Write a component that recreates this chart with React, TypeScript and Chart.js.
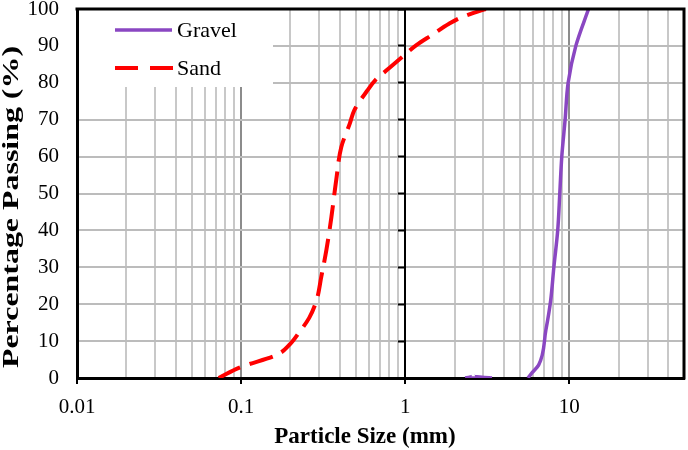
import React, { useEffect, useRef } from 'react';
import { Chart, registerables } from 'chart.js';

Chart.register(...registerables);

// ---- Data ----
const seriesNames = ['Gravel', 'Sand'];

const sandSize = [0.073, 0.1, 0.164, 0.197, 0.227, 0.26, 0.288, 0.308, 0.331, 0.355, 0.38, 0.408, 0.46, 0.49, 0.59, 0.66, 0.8, 0.96, 1.17, 1.46, 1.85, 2.22, 2.94, 3.1];
const sandPassing = [0, 3, 6.2, 9, 12.5, 16.3, 21, 27.4, 34.7, 43.6, 53.7, 62.6, 69, 72.6, 78, 80.8, 84, 87, 90.2, 93, 96, 97.8, 99.7, 100];

// null marks the part of the curve hidden below the axis
const gravelSize = [2.32, 2.6, 3.38, 4.5, 5.6, 5.92, 6.5, 7.2, 7.7, 8.05, 8.5, 8.75, 9.0, 9.43, 9.84, 10.96, 13.1];
const gravelPassing = [0, 0.5, 0, null, 0, 1.4, 3.5, 13, 21, 30, 40, 50, 60, 70, 80, 90, 100];

const xMajorTicks = [0.01, 0.1, 1, 10];
const xMinorMultipliers = [2, 3, 4, 5, 6, 7, 8, 9];
const xMin = 0.01;
const xMax = 50;
const yMin = 0;
const yMax = 100;
const yStep = 10;

const xTitle = 'Particle Size (mm)';
const yTitle = 'Percentage Passing (%)';

const FONT = "'Liberation Serif', 'Times New Roman', serif";
const GRAVEL_COLOR = '#8a47c2';
const SAND_COLOR = '#ff0000';

const xTickValues: number[] = (() => {
  const out: number[] = [];
  xMajorTicks.forEach((m) => {
    if (m <= xMax) out.push(m);
    xMinorMultipliers.forEach((k) => {
      const v = k * m;
      if (v <= xMax + 1e-9) out.push(v);
    });
  });
  return out.sort((a, b) => a - b);
})();

const isMajor = (v: number) => xMajorTicks.some((m) => Math.abs(m - v) < 1e-9);
const isOne = (v: number) => Math.abs(v - 1) < 1e-9;

const decorPlugin = {
  id: 'decor',
  beforeDatasetsDraw(chart: any) {
    const { ctx, chartArea: a } = chart;
    ctx.save();
    ctx.fillStyle = '#ffffff';
    ctx.fillRect(a.left + 2, a.top + 1, 194, 77);
    ctx.restore();
  },
  afterDraw(chart: any) {
    const { ctx, chartArea: a } = chart;
    ctx.save();
    // top & right border
    ctx.strokeStyle = '#000';
    ctx.lineWidth = 3;
    ctx.beginPath();
    ctx.moveTo(a.left - 1.5, a.top);
    ctx.lineTo(a.right, a.top);
    ctx.lineTo(a.right, a.bottom + 1.5);
    ctx.stroke();

    // legend
    const lx0 = a.left + 38;
    const lx1 = a.left + 95;
    const ly = [a.top + 21, a.top + 59];
    ctx.lineCap = 'butt';
    ctx.strokeStyle = GRAVEL_COLOR;
    ctx.lineWidth = 3.5;
    ctx.setLineDash([]);
    ctx.beginPath();
    ctx.moveTo(lx0, ly[0]);
    ctx.lineTo(lx1, ly[0]);
    ctx.stroke();
    ctx.strokeStyle = SAND_COLOR;
    ctx.lineWidth = 4;
    ctx.setLineDash([23, 12]);
    ctx.beginPath();
    ctx.moveTo(lx0, ly[1]);
    ctx.lineTo(lx1 + 1, ly[1]);
    ctx.stroke();
    ctx.setLineDash([]);
    ctx.fillStyle = '#000';
    ctx.font = `22px ${FONT}`;
    ctx.textAlign = 'left';
    ctx.textBaseline = 'middle';
    ctx.fillText(seriesNames[0], a.left + 100, ly[0] + 1);
    ctx.fillText(seriesNames[1], a.left + 100, ly[1] + 1);

    // x title
    ctx.font = `bold 23px ${FONT}`;
    ctx.textAlign = 'center';
    ctx.textBaseline = 'alphabetic';
    ctx.fillText(xTitle, 365, 443);

    // y title (stretched along its length as in the reference)
    ctx.translate(12, 207);
    ctx.rotate(-Math.PI / 2);
    ctx.scale(1.33, 1);
    ctx.font = `bold 24px ${FONT}`;
    ctx.textAlign = 'center';
    ctx.textBaseline = 'middle';
    ctx.fillText(yTitle, 0, 0);
    ctx.restore();
  },
};

export default function App() {
  const ref = useRef<HTMLCanvasElement | null>(null);

  useEffect(() => {
    if (!ref.current) return;
    Chart.defaults.font.family = FONT;
    Chart.defaults.color = '#000';

    const chart = new Chart(ref.current, {
      type: 'line',
      data: {
        datasets: [
          {
            label: seriesNames[0],
            data: gravelSize.map((x, i) => ({ x, y: gravelPassing[i] })),
            borderColor: GRAVEL_COLOR,
            backgroundColor: GRAVEL_COLOR,
            borderWidth: 3.5,
            pointRadius: 0,
            indexAxis: 'y',
            cubicInterpolationMode: 'monotone',
            spanGaps: false,
            yAxisID: 'y',
            xAxisID: 'x',
          },
          {
            label: seriesNames[1],
            data: sandSize.map((x, i) => ({ x, y: sandPassing[i] })),
            borderColor: SAND_COLOR,
            backgroundColor: SAND_COLOR,
            borderWidth: 4,
            borderDash: [24, 10],
            pointRadius: 0,
            indexAxis: 'y',
            cubicInterpolationMode: 'monotone',
            yAxisID: 'y',
            xAxisID: 'x',
          },
        ] as any,
      },
      options: {
        animation: false,
        responsive: false,
        devicePixelRatio: 1,
        layout: { padding: { top: 9, right: 4, left: 0, bottom: 0 } },
        plugins: {
          legend: { display: false },
          tooltip: { enabled: false },
        },
        scales: {
          x: {
            type: 'logarithmic',
            position: 'bottom',
            min: xMin,
            max: xMax,
            afterBuildTicks: (scale: any) => {
              scale.ticks = xTickValues.map((v) => ({ value: v, major: isMajor(v) }));
            },
            afterFit: (scale: any) => {
              scale.height = 72;
              scale.paddingLeft = 0;
              scale.paddingRight = 0;
            },
            ticks: {
              autoSkip: false,
              maxRotation: 0,
              minRotation: 0,
              padding: 11,
              font: { size: 21, family: FONT },
              color: '#000',
              callback: (value: any) => (isMajor(Number(value)) ? String(Number(value)) : ''),
            },
            grid: {
              color: (c: any) => {
                const v = c.tick ? c.tick.value : 0;
                if (isOne(v)) return '#000000';
                if (isMajor(v)) return '#8c8c8c';
                return '#c8c8c8';
              },
              lineWidth: 2,
              drawTicks: true,
              tickLength: 6,
              tickWidth: 2,
              tickColor: (c: any) => {
                const v = c.tick ? c.tick.value : 0;
                return isMajor(v) ? '#000000' : 'rgba(0,0,0,0)';
              },
            },
            border: { color: '#000', width: 3 },
          },
          y: {
            type: 'linear',
            position: 'left',
            min: yMin,
            max: yMax,
            afterFit: (scale: any) => {
              scale.width = 77;
              scale.paddingTop = 0;
              scale.paddingBottom = 0;
            },
            ticks: {
              stepSize: yStep,
              padding: 18,
              font: { size: 21, family: FONT },
              color: '#000',
            },
            grid: {
              color: '#bcbcbc',
              lineWidth: 2,
              drawTicks: false,
            },
            border: { color: '#000', width: 3 },
          },
          y2: {
            type: 'linear',
            position: { x: 1 } as any,
            min: yMin,
            max: yMax,
            ticks: { display: false, stepSize: yStep },
            grid: {
              drawOnChartArea: false,
              drawTicks: true,
              tickLength: 6,
              tickWidth: 2,
              tickColor: '#000',
            },
            border: { color: '#000', width: 2 },
          },
        } as any,
      },
      plugins: [decorPlugin],
    });

    return () => chart.destroy();
  }, []);

  return (
    <div style={{ position: 'absolute', left: 0, top: 0, width: 688, height: 450, background: '#fff' }}>
      <canvas ref={ref} width={688} height={450} style={{ width: 688, height: 450, display: 'block' }} />
    </div>
  );
}
